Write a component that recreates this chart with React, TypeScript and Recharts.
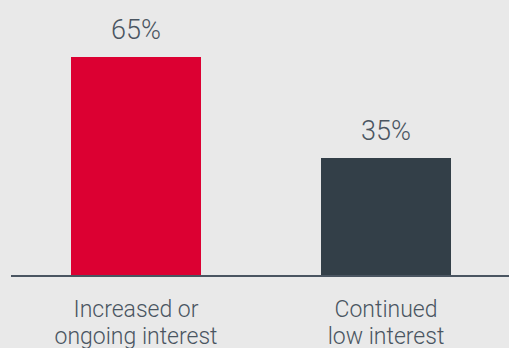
import React from 'react';
import { BarChart, Bar, XAxis, YAxis, LabelList, Cell } from 'recharts';

const categories = ['Increased or ongoing interest', 'Continued low interest'];
const tickLines = [
  ['Increased or', 'ongoing interest'],
  ['Continued', 'low interest'],
];
const shares = [65, 35];
const barColors = ['#dc0032', '#333f48'];

const data = categories.map((name, i) => ({ name, value: shares[i], color: barColors[i] }));

const TEXT = '#4a5561';

const CategoryTick = (props: any) => {
  const { x, y, index } = props;
  const lines = tickLines[index] || [];
  return (
    <text x={x} y={y} textAnchor="middle" fill={TEXT} fontSize={23} fontWeight={300}>
      {lines.map((line, i) => (
        <tspan key={i} x={x} y={y + 41 + i * 27}>
          {line}
        </tspan>
      ))}
    </text>
  );
};

const App: React.FC = () => {
  return (
    <div
      style={{
        position: 'absolute',
        left: 0,
        top: 0,
        width: 509,
        height: 348,
        overflow: 'hidden',
        background: '#e9e9e9',
        fontFamily: 'Roboto, "Liberation Sans", sans-serif',
      }}
    >
      <BarChart
        width={511}
        height={348}
        data={data}
        margin={{ top: 57, right: 0, left: 11, bottom: 0 }}
      >
        <YAxis hide domain={[0, 65]} />
        <XAxis
          dataKey="name"
          height={72}
          axisLine={{ stroke: TEXT, strokeWidth: 2 }}
          tickLine={false}
          tickSize={0}
          tickMargin={0}
          interval={0}
          tick={<CategoryTick />}
        />
        <Bar dataKey="value" barSize={130} isAnimationActive={false}>
          {data.map((d, i) => (
            <Cell key={`cell-${i}`} fill={d.color} />
          ))}
          <LabelList
            dataKey="value"
            position="top"
            offset={18}
            formatter={(v: any) => `${v}%`}
            fill={TEXT}
            fontSize={27}
            fontWeight={300}
          />
        </Bar>
      </BarChart>
    </div>
  );
};

export default App;
